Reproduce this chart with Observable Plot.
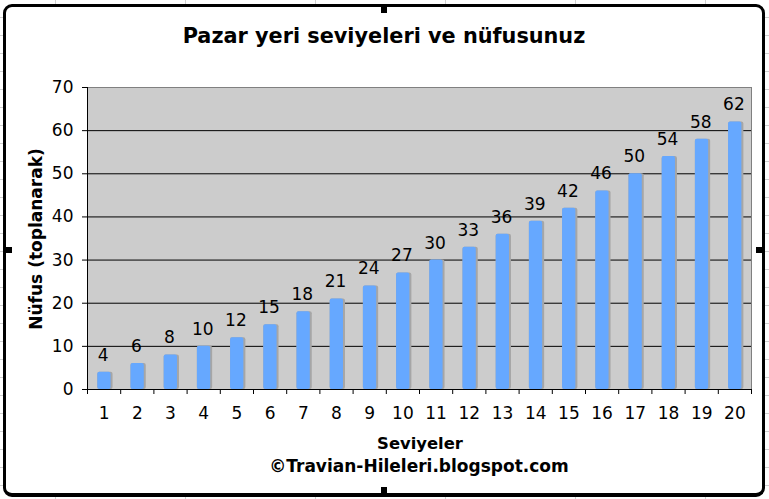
<!DOCTYPE html>
<html lang="tr">
<head>
<meta charset="utf-8">
<script src="https://cdn.jsdelivr.net/npm/d3@7"></script>
<script src="https://cdn.jsdelivr.net/npm/@observablehq/plot@0.6"></script>
<style>
html,body{margin:0;padding:0;width:769px;height:499px;overflow:hidden;background-color:#fff;
 background-image:repeating-linear-gradient(to bottom,transparent 0 17px,#d0d0d0 17px 18px),repeating-linear-gradient(to right,transparent 0 55px,#d0d0d0 55px 56px,transparent 56px 130px);}
#stage{position:absolute;left:0;top:0;width:769px;height:499px;font-family:"DejaVu Sans",sans-serif;color:#000;}
#frame{position:absolute;left:3px;top:4px;width:756px;height:486px;border:3px solid #000;border-bottom-width:4px;border-radius:9px;background:#fff;}
#stage svg{position:absolute;left:0;top:0;background:transparent;}
.t{position:absolute;font-weight:bold;text-align:center;white-space:nowrap;}
#title{left:0;width:768px;top:23px;font-size:20.8px;line-height:26px;}
#xlab{left:0;width:840px;top:434px;font-size:16.4px;line-height:19px;}
#credit{left:0;width:838px;top:456px;font-size:17px;line-height:20px;}
#ylab{left:36px;top:239px;font-size:17px;line-height:19px;transform:translate(-50%,-50%) rotate(-90deg);}
.h{position:absolute;width:6px;height:6px;background:#000;}
</style>
</head>
<body>
<div id="stage">
<div id="frame"></div>
<div class="h" style="left:381px;top:7px"></div>
<div class="h" style="left:381px;top:487px"></div>
<div class="h" style="left:6px;top:247px"></div>
<div class="h" style="left:756px;top:247px"></div>
<div id="title" class="t">Pazar yeri seviyeleri ve nüfusunuz</div>
<div id="ylab" class="t">Nüfus (toplanarak)</div>
<div id="xlab" class="t">Seviyeler</div>
<div id="credit" class="t">©Travian-Hileleri.blogspot.com</div>
</div>
<script>
const levels = [1,2,3,4,5,6,7,8,9,10,11,12,13,14,15,16,17,18,19,20];
const population = [4,6,8,10,12,15,18,21,24,27,30,33,36,39,42,46,50,54,58,62];
const yTicks = [0,10,20,30,40,50,60,70];
const gridValues = [10,20,30,40,50,60];
const boundaries = [0.5,1.5,2.5,3.5,4.5,5.5,6.5,7.5,8.5,9.5,10.5,11.5,12.5,13.5,14.5,15.5,16.5,17.5,18.5,19.5,20.5];
const rows = levels.map((level,i)=>({level,value:population[i]}));

const chart = Plot.plot({
  width:769,height:499,
  marginLeft:87,marginRight:18,marginTop:87,marginBottom:110,
  style:{background:"transparent",fontFamily:"'DejaVu Sans',sans-serif",color:"#000"},
  x:{domain:[0.5,20.5],label:null},
  y:{domain:[0,70],label:null},
  marks:[
    Plot.frame({fill:"#cccccc",stroke:"#808080",strokeWidth:1}),
    Plot.ruleY(gridValues,{stroke:"#000",strokeWidth:1}),
    Plot.rectY(rows,{x1:d=>d.level-0.19,x2:d=>d.level+0.27,y1:0,y2:"value",fill:"#a6a6a6",rx:2}),
    Plot.rectY(rows,{x1:d=>d.level-0.19,x2:d=>d.level+0.21,y1:0,y2:"value",fill:"#66a8ff",rx:2}),
    Plot.text(rows,{x:"level",y:"value",text:"value",dy:-17,dx:-1,fontSize:17,fill:"#000"}),
    Plot.ruleX([0.5],{stroke:"#000",strokeWidth:1}),
    Plot.ruleY([0],{stroke:"#000",strokeWidth:1}),
    Plot.axisY({ticks:yTicks,tickSize:5,tickPadding:9,fontSize:17,stroke:"#000"}),
    Plot.axisX({ticks:boundaries,tickSize:5,tickFormat:()=>"",stroke:"#000"}),
    Plot.axisX({ticks:levels,tickSize:0,tickPadding:17,fontSize:17,tickFormat:d3.format("d")})
  ]
});
document.getElementById("stage").insertBefore(chart,document.getElementById("title"));
</script>
</body>
</html>
